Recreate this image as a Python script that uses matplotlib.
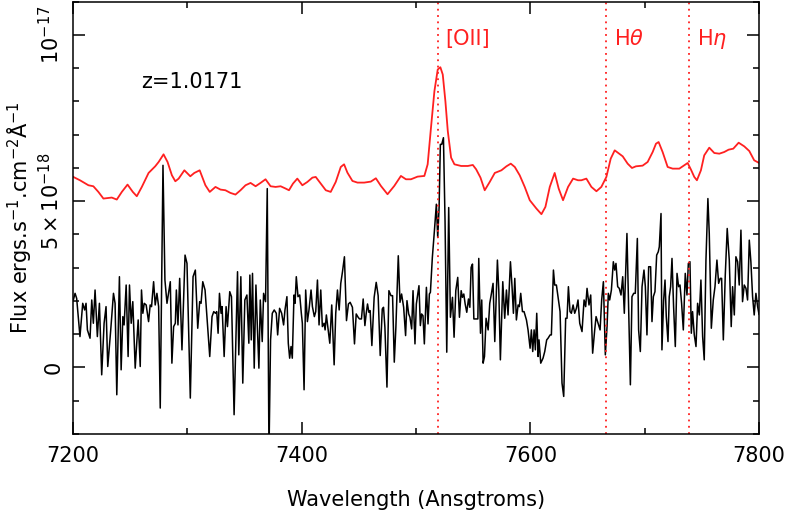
import numpy as np
import matplotlib
matplotlib.use('Agg')
import matplotlib.pyplot as plt
from matplotlib.ticker import MultipleLocator

# observed spectrum, flux in units of 1e-18 erg/s/cm2/A
bk_wave = [7200.3, 7201.8, 7203.2, 7206.1, 7208.5, 7210.2, 7211.4, 7212.6, 7214.9, 7216.4,
           7217.8, 7219.3, 7221.3, 7223.1, 7225.1, 7227.2, 7228.9, 7230.4, 7233.0, 7235.4,
           7236.8, 7238.3, 7240.6, 7242.1, 7243.6, 7244.7, 7246.5, 7248.2, 7249.4, 7250.9,
           7252.3, 7254.4, 7257.0, 7258.8, 7259.9, 7261.1, 7262.3, 7264.0, 7266.1, 7267.5,
           7268.7, 7270.5, 7271.9, 7273.4, 7274.9, 7276.3, 7278.7, 7280.4, 7282.2, 7285.1,
           7286.5, 7288.0, 7289.5, 7290.4, 7291.8, 7293.3, 7295.3, 7298.0, 7299.7, 7302.6,
           7305.0, 7307.0, 7309.1, 7310.8, 7312.0, 7313.5, 7315.5, 7319.6,
           7321.6, 7323.1, 7324.6, 7325.7, 7326.9, 7328.1, 7329.5, 7330.4, 7332.2, 7333.9,
           7335.1, 7337.1, 7338.6, 7340.9, 7343.9, 7345.0, 7346.8, 7348.5, 7350.3, 7352.1,
           7353.8, 7354.7, 7355.9, 7357.0, 7358.5, 7360.0, 7361.4, 7362.6, 7363.8, 7365.5,
           7366.7, 7368.4, 7369.9, 7371.4, 7372.8, 7374.3, 7376.0, 7377.8, 7379.0, 7380.7,
           7382.5, 7384.2, 7385.4, 7387.1, 7388.3, 7389.5, 7390.7, 7391.8, 7393.3, 7394.2,
           7395.3, 7396.8, 7398.3, 7399.7, 7400.6, 7402.1, 7403.5, 7405.0, 7406.4, 7408.2,
           7409.4, 7411.1, 7412.3, 7413.8, 7415.2, 7416.7, 7418.1, 7419.6, 7420.5, 7421.6,
           7422.8, 7424.6, 7426.3, 7428.4, 7429.8, 7431.3, 7432.8, 7434.2, 7435.7, 7437.4,
           7439.2, 7440.9, 7442.4, 7444.4, 7446.2, 7447.7, 7449.4, 7450.6, 7452.3, 7453.8,
           7455.3, 7456.4, 7457.6, 7458.8, 7459.9, 7461.4, 7463.4, 7465.2, 7466.9, 7468.7,
           7470.5, 7471.6, 7472.8, 7474.6, 7476.3, 7478.1, 7479.5, 7481.0, 7482.4, 7484.5,
           7486.0, 7487.4, 7489.2, 7490.9, 7492.1, 7493.6, 7494.7, 7496.2, 7497.4, 7499.1,
           7500.3, 7502.6, 7503.8, 7504.9, 7506.1, 7507.3, 7509.1, 7510.5, 7511.7, 7512.6,
           7514.3, 7516.1, 7517.8, 7519.0, 7520.2, 7521.3, 7522.5, 7524.0, 7525.4, 7526.9,
           7528.6, 7530.1, 7531.9, 7533.3, 7534.8, 7536.5, 7538.0, 7539.5, 7540.6, 7541.8,
           7543.0, 7544.4, 7545.9, 7547.1, 7548.2, 7549.4, 7550.6, 7552.3, 7554.1,
           7554.9, 7556.4, 7557.5, 7558.7, 7559.9, 7561.3, 7563.1, 7564.5, 7566.0, 7567.4,
           7568.9, 7571.2, 7572.4, 7573.8, 7575.9, 7577.6, 7579.1, 7580.5, 7582.6, 7584.0,
           7585.2, 7586.4, 7587.8, 7589.3, 7590.4, 7591.6, 7593.1, 7594.5, 7596.6, 7598.0,
           7599.8, 7600.9, 7602.1, 7603.3, 7604.4, 7605.6, 7606.8, 7607.6, 7609.1, 7611.1,
           7612.6, 7614.3, 7615.5, 7617.3, 7618.4, 7620.2, 7621.3, 7622.8, 7624.2, 7626.0,
           7627.7, 7629.2, 7630.9, 7632.1, 7633.3, 7634.7, 7635.9, 7637.4, 7638.8, 7640.3,
           7641.7, 7643.2, 7645.2, 7647.0, 7648.4, 7649.6, 7651.3, 7652.8, 7654.5, 7656.3,
           7657.5, 7659.2, 7661.0, 7662.4, 7663.9, 7665.6, 7667.1, 7668.2, 7669.4, 7670.9,
           7672.6, 7673.8,
           7674.9, 7676.4, 7677.8, 7679.3, 7680.8, 7682.2, 7684.5, 7687.5, 7688.9, 7690.4,
           7691.8, 7693.6, 7694.7, 7696.2, 7697.7, 7699.4, 7700.6, 7702.0, 7703.5, 7705.2,
           7706.4, 7707.6, 7709.0, 7710.5, 7711.9, 7712.8, 7714.3, 7715.1, 7716.6, 7717.8,
           7718.9, 7720.4, 7721.5, 7722.7, 7723.9, 7725.3, 7726.8, 7728.3, 7729.7, 7730.9,
           7732.3, 7733.8, 7735.5, 7737.0, 7738.2, 7739.6, 7740.8, 7741.9, 7743.4, 7744.9,
           7746.3, 7747.8, 7749.2, 7750.7, 7752.1, 7753.6, 7755.3, 7756.5, 7758.3, 7760.0,
           7761.5, 7763.2, 7764.7, 7766.1, 7767.3, 7768.8, 7770.5, 7772.2, 7774.0, 7775.7,
           7776.9, 7778.4, 7779.8, 7781.3, 7782.7, 7784.2, 7785.6, 7787.1, 7788.6, 7790.0,
           7791.5, 7792.9, 7794.4, 7795.8, 7797.3, 7798.8, 7800.0]
bk_flux = [2.03, 2.23, 2.08, 0.93, 1.93, 1.73, 1.93, 1.13, 0.88, 2.03,
           1.33, 2.33, 0.93, 1.93, -0.22, 1.33, 1.83, 0.03, 1.13, 2.23,
           1.93, -0.82, 2.73, -0.07, 1.53, 1.28, 2.48, 0.33, 2.48, 1.33,
           1.98, -0.02, 1.43, 0.03, 2.33, 1.63, 1.93, 1.88, 1.38, 1.88,
           1.83, 2.58, 1.88, 2.23, 1.83, -1.22, 6.08, 2.63, 1.93, 2.58,
           0.13, 1.23, 1.33, 2.33, 1.28, 2.68, 0.53, 3.38, 3.13, -0.92,
           2.73, 2.93, 1.18, 1.98, 1.93, 2.58, 2.33, 0.33,
           1.53, 1.68, 1.63, 1.68, 1.03, 2.23, 1.63, 1.83, 0.33, 1.83,
           1.23, 2.28, 2.13, -1.42, 2.88, 0.38, 2.73, -0.47, 2.03, 2.18,
           0.73, 2.78, 0.83, 2.83, -0.02, 2.48, 1.08, -0.02, 2.03, 0.78,
           2.23, 1.98, 5.38, -2.60, 0.83, 1.63, 1.73, 1.63, 0.98, 1.78,
           1.63, 1.28, 1.73, 2.13, 0.73, 0.28, 0.63, 0.28, 2.18, 1.93,
           2.73, 2.13, 2.18, 1.63, 1.33, -0.67, 2.33, 1.38, 1.73, 2.33,
           1.83, 1.53, 1.68, 2.63, 1.28, 2.33, 1.23, 1.33, 1.13, 1.58,
           1.23, 0.73, 1.88, 0.08, 1.63, 2.33, 1.73, 2.53, 2.88, 3.33,
           1.41, 1.91, 1.96, 1.81, 0.71, 1.61, 1.51, 1.46, 1.46, 2.06,
           1.26, 1.61, 1.91, 1.66, 1.71, 0.66, 2.11, 2.56, 2.16, 0.36,
           1.76, 1.81, 1.21, -0.59, 2.31, 2.16, 2.16, 0.16, 1.21, 3.36,
           1.96, 2.21, 1.81, 0.96, 2.01, 1.61, 1.51, 1.16, 2.31, 0.71,
           1.91, 2.46, 1.26, 1.61, 1.56, 0.71, 2.41, 1.31, 2.21, 2.26,
           3.31, 4.11, 4.91, 3.91, 4.81, 6.71, 6.71, 6.91, 4.41, 0.46,
           4.81, 1.51, 2.11, 0.91, 2.31, 2.71, 1.51, 2.31, 2.11, 2.21,
           1.91, 1.66, 2.06, 1.81, 3.01, 3.11, 1.46, 1.46, 1.46,
           3.28, 1.03, 2.03, 0.13, 0.33, 1.48, 1.13, 1.93, 2.23, 2.53,
           0.78, 3.23, 2.33, 0.23, 2.58, 1.48, 2.33, 1.58, 3.18, 2.43,
           1.63, 2.68, 1.43, 1.88, 1.83, 2.23, 1.68, 1.68, 1.43, 1.13,
           0.58, 1.13, 0.48, 1.13, 0.53, 1.63, 0.33, 0.83, 0.13, 0.28,
           0.48, 0.83, 0.88, 0.98, 0.98, 2.93, 2.48, 2.48, 2.13, 1.68,
           -0.47, -0.87, 1.48, 1.48, 2.43, 1.68, 1.63, 1.88, 1.63, 1.78,
           2.03, 1.33, 1.08, 2.03, 1.83, 2.38, 1.88, 2.18, 0.43, 1.13,
           1.53, 1.33, 1.13, 2.03, 2.58, 0.38, 1.23, 2.23, 2.03, 2.33,
           3.18, 2.93,
           3.13, 2.43, 2.38, 2.18, 2.73, 1.63, 4.03, -0.52, 2.13, 2.23,
           2.23, 3.88, 1.13, 0.48, 2.43, 2.93, 2.43, 0.98, 3.03, 3.03,
           1.38, 2.13, 2.28, 3.38, 3.48, 3.63, 4.63, 0.53, 2.03, 2.63,
           1.53, 0.78, 2.13, 2.43, 3.28, 1.83, 0.63, 2.83, 2.43, 2.48,
           1.93, 1.13, 2.83, 2.18, 3.13, 3.18, 1.03, 1.68, 0.98, 0.63,
           1.93, 1.58, 2.63, 0.93, 0.23, 3.23, 5.08, 4.03, 1.18, 2.03,
           2.43, 3.23, 2.53, 2.68, 2.68, 0.83, 2.78, 4.18, 3.23, 1.23,
           2.43, 1.58, 3.33, 3.18, 2.48, 4.13, 1.98, 2.48, 2.38, 2.03,
           3.83, 3.18, 2.13, 1.58, 2.23, 1.83, 1.60]

# smoothed (offset) spectrum
sm_wave = [7200.3, 7206.1, 7213.5, 7217.8, 7222.2, 7226.6, 7231.0, 7233.9, 7238.3, 7242.7,
           7247.7, 7252.3, 7255.8, 7260.2, 7266.1, 7271.9, 7274.9, 7279.2, 7282.7, 7286.5,
           7289.5, 7292.4, 7297.4, 7302.6, 7306.1, 7310.8, 7315.8, 7319.6,
           7324.6, 7329.0, 7333.3, 7337.7, 7342.1, 7346.5, 7350.9, 7355.3, 7359.7, 7364.0,
           7368.4, 7372.8, 7377.2, 7381.6, 7386.0, 7388.9, 7392.4, 7396.2, 7400.6, 7405.0,
           7409.4, 7412.3, 7416.7, 7421.1, 7425.4, 7429.8, 7434.2,
           7437.1, 7440.0, 7444.4, 7448.8, 7454.7, 7460.5, 7464.9, 7469.3, 7475.1, 7481.0,
           7486.8, 7491.2, 7495.6, 7501.4, 7507.3, 7510.2, 7513.1, 7516.1, 7519.0, 7521.3,
           7523.4, 7525.7, 7527.8, 7530.7, 7533.6, 7539.5, 7545.3, 7549.7, 7552.6, 7556.4,
           7560.1, 7564.5, 7568.9, 7574.7, 7579.1, 7582.9, 7586.4, 7590.7, 7595.1, 7599.5,
           7605.3, 7609.7, 7613.2, 7617.0, 7621.3, 7624.8, 7628.6, 7633.0, 7637.4, 7641.7,
           7644.6, 7649.0, 7653.4, 7657.8, 7662.1, 7666.5, 7670.3, 7673.8,
           7680.8, 7685.1, 7688.9, 7692.4, 7698.2, 7702.6, 7707.0, 7709.9, 7712.2, 7715.7,
           7720.1, 7724.5, 7730.3, 7733.8, 7737.6, 7740.5, 7743.4, 7745.7, 7749.2, 7752.1,
           7756.5, 7760.9, 7765.3, 7769.6, 7773.4, 7777.5, 7782.2, 7787.1, 7791.5, 7795.8,
           7799.6]
sm_flux = [5.73, 5.63, 5.48, 5.45, 5.28, 5.08, 5.10, 5.11, 5.05, 5.28,
           5.50, 5.28, 5.15, 5.43, 5.85, 6.05, 6.18, 6.41, 6.18, 5.78,
           5.60, 5.68, 5.93, 5.75, 5.85, 5.93, 5.48, 5.28,
           5.43, 5.35, 5.33, 5.25, 5.20, 5.33, 5.48, 5.55, 5.45, 5.55,
           5.66, 5.45, 5.43, 5.45, 5.38, 5.33, 5.53, 5.68, 5.48, 5.58,
           5.71, 5.73, 5.53, 5.33, 5.28, 5.58, 6.03,
           6.11, 5.86, 5.61, 5.56, 5.56, 5.59, 5.69, 5.46, 5.21, 5.46,
           5.76, 5.66, 5.66, 5.74, 5.76, 6.11, 7.21, 8.31, 8.96, 9.03,
           8.81, 8.01, 7.11, 6.31, 6.11, 6.06, 6.06, 6.09, 5.96, 5.71,
           5.33, 5.58, 5.85, 5.93, 6.05, 6.13, 6.03, 5.78, 5.43, 5.03,
           4.78, 4.61, 4.83, 5.43, 5.85, 5.38, 5.03, 5.43, 5.68, 5.63,
           5.63, 5.68, 5.43, 5.30, 5.43, 5.73, 6.28, 6.53,
           6.35, 6.13, 6.00, 6.05, 6.07, 6.18, 6.48, 6.73, 6.78, 6.48,
           6.03, 5.98, 5.98, 6.06, 6.15, 5.95, 5.73, 5.63, 5.93, 6.38,
           6.61, 6.45, 6.43, 6.48, 6.55, 6.58, 6.76, 6.65, 6.51, 6.23,
           6.16]

# emission line markers
line_wave = [7519.0, 7666.0, 7739.0]
line_names = ['[OII]', r'H$\theta$', r'H$\eta$']

red = '#ff2020'

fig = plt.figure(figsize=(7.89, 5.13), dpi=100)
ax = fig.add_axes([73/789, 1-434/513, (759-73)/789, (434-1.7)/513])

ax.plot(bk_wave, np.array(bk_flux)*1e-18, color='k', lw=1.1)
ax.plot(sm_wave, np.array(sm_flux)*1e-18, color=red, lw=1.3)

for w, name in zip(line_wave, line_names):
    ax.axvline(w, color=red, ls=(0, (1, 2.5)), lw=1.3)
    ax.text(w+7, 9.88e-18, name, color=red, fontsize=15, va='center')

ax.text(7260, 8.6e-18, 'z=1.0171', fontsize=15, va='center')

ax.set_xlim(7200, 7800)
ax.set_ylim(-2e-18, 1.1e-17)
ax.set_xticks([7200, 7400, 7600, 7800])
ax.xaxis.set_minor_locator(MultipleLocator(100))
ax.set_yticks([0, 5e-18, 1e-17])
ax.set_yticklabels(['0', r'$5\times10^{-18}$', r'$10^{-17}$'], rotation=90, va='center')
ax.yaxis.set_minor_locator(MultipleLocator(1e-18))

ax.tick_params(which='both', direction='in', top=True, right=True, width=1.1)
ax.tick_params(which='major', length=8.5, labelsize=15)
ax.tick_params(axis='x', which='major', pad=9)
ax.tick_params(axis='y', which='major', pad=7)
ax.tick_params(which='minor', length=4.5)
for s in ax.spines.values():
    s.set_linewidth(1.1)

ax.set_xlabel('Wavelength (Ansgtroms)', fontsize=15, labelpad=17)
ax.set_ylabel('Flux ergs.s$^{-1}$.cm$^{-2}$Å$^{-1}$', fontsize=15, labelpad=3)

fig.savefig('out.png', dpi=100)
